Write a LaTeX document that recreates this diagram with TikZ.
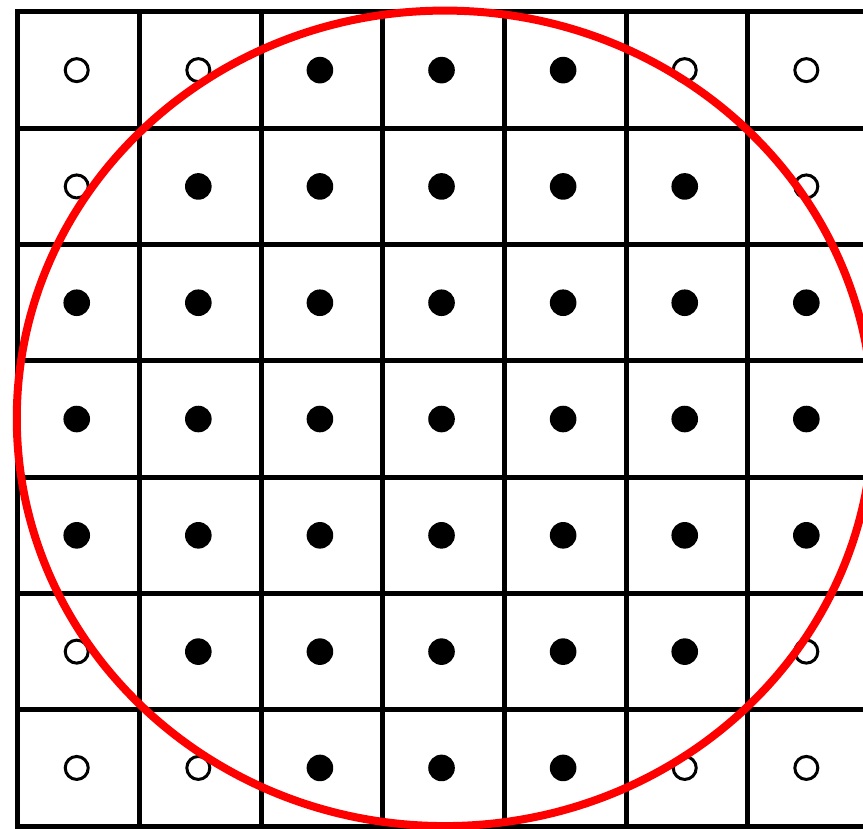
\documentclass[tikz,border=0pt]{standalone}
\usetikzlibrary{positioning}

\begin{document}
\begin{tikzpicture}[x=60.8pt, y=-58.15pt,
gridline/.style={line width=2.5pt, line cap=rect},
inside/.style={circle, fill=black, inner sep=0pt, minimum size=13.3pt},
outside/.style={circle, draw=black, line width=1.5pt, fill=white, inner sep=0pt, minimum size=11.5pt},
disk/.style={draw=red, line width=4pt}]
\useasboundingbox (-0.148,-0.103) rectangle (6.949,7.017);
\clip (-0.148,-0.103) rectangle (6.949,7.017);
% grid
\foreach \i in {0,...,7} {
  \draw[gridline] (\i,0) -- (\i,7);
  \draw[gridline] (0,\i) -- (7,\i);
}
% sample points
\foreach \row/\pattern in {1/{0,0,1,1,1,0,0}, 2/{0,1,1,1,1,1,0}, 3/{1,1,1,1,1,1,1}, 4/{1,1,1,1,1,1,1}, 5/{1,1,1,1,1,1,1}, 6/{0,1,1,1,1,1,0}, 7/{0,0,1,1,1,0,0}} {
  \foreach \v [count=\col] in \pattern {
    \ifnum\v=1
      \node[inside] (p-\row-\col) at (\col-0.517,\row-0.5) {};
    \else
      \node[outside] (p-\row-\col) at (\col-0.517,\row-0.5) {};
    \fi
  }
}
% circle
\coordinate (centre) at (3.51,3.494);
\draw[disk] (centre) ellipse [x radius=3.52, y radius=3.506];
\end{tikzpicture}
\end{document}
